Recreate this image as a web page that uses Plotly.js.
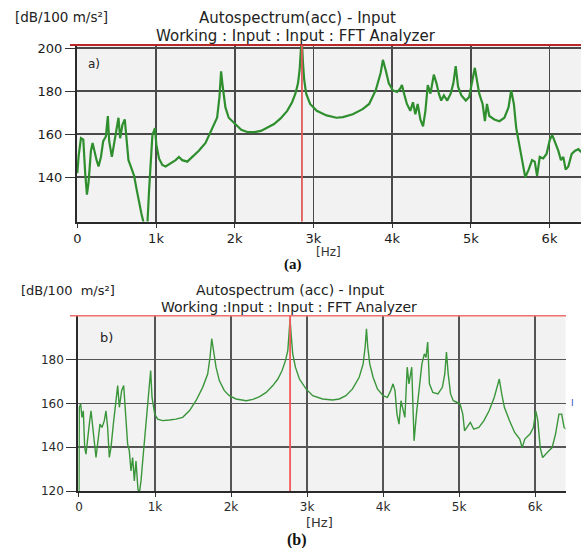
<!DOCTYPE html>
<html>
<head>
<meta charset="utf-8">
<script src="https://cdn.plot.ly/plotly-3.0.1.min.js"></script>
<style>html,body{margin:0;padding:0;background:#fff;}#chart{width:581px;height:548px;}</style>
</head>
<body>
<div id="chart"></div>
<script>
// ---- Data (a): Working, Input spectrum ----
const freqA = [0,17,46,76,101,122,143,173,194,215,245,270,300,329,363,388,405,439,468,498,523,544,574,603,624,650,679,722,751,785,814,848,890,911,932,954,987,1004,1038,1080,1122,1186,1249,1291,1333,1397,1460,1544,1629,1713,1776,1806,1827,1848,1882,1924,2008,2083,2167,2250,2333,2417,2500,2583,2667,2729,2771,2804,2825,2842,2854,2867,2883,2908,2958,3042,3167,3292,3375,3500,3625,3708,3792,3854,3883,3917,3958,4008,4063,4104,4125,4146,4188,4231,4265,4295,4325,4359,4393,4423,4453,4487,4530,4564,4594,4624,4658,4701,4744,4778,4808,4838,4880,4936,4979,5021,5051,5077,5107,5150,5179,5205,5235,5299,5363,5427,5479,5513,5547,5577,5620,5662,5692,5735,5778,5812,5842,5876,5919,5962,6004,6034,6068,6111,6145,6175,6205,6239,6282,6325,6368,6402];
const dbA = [142,150,158.2,157.5,141.5,132,137.8,152.4,156,152.4,148,145.1,149.5,156.8,159,168.5,156.8,149.5,155.3,162.9,167.7,158.2,164.5,166.9,159.7,148,145.1,140.7,134.9,127.6,123.2,118,118,133.4,149.5,159.7,162.9,155.3,148.8,145.8,145.1,146.6,148,149.5,148,147.3,149.5,152.4,156,162.9,167.7,177.3,189.3,182.1,172.5,167.7,164.5,162.1,161,161,161.6,163.2,164.8,167.4,170.9,174.9,178.9,183.7,190,200,203,193.3,185.3,178.9,174.1,170.9,168.8,167.7,168,169.3,171.7,174.1,180.5,188.5,194.6,190,183.7,180.5,179.7,181.3,182.9,179.7,174.1,170.9,174.9,169.3,174.1,166.9,163.7,170.9,182.9,178.9,187.7,183.7,178.9,175.7,178.1,175.7,178.9,183.7,191.7,182.1,178.1,175.7,177.3,185.3,190.9,185.3,178.9,174.1,166.1,174.1,168.5,166.9,166.1,167.7,172.5,180.5,174.1,162.9,153.9,145.1,140,143.6,148,147.3,140.7,149.5,148.8,150.9,157.5,159.7,156.8,152.4,148,149.5,143.6,145.1,150.9,152.4,153.1,151.7];

// ---- Data (b) ----
const freqB = [0,4,22,39,57,75,92,110,136,158,180,202,224,250,276,303,333,355,377,399,421,452,487,509,531,561,588,610,640,662,684,706,728,750,776,794,816,838,873,904,925,943,961,978,996,1035,1101,1189,1276,1364,1452,1539,1627,1693,1724,1746,1768,1803,1846,1912,1978,2066,2201,2288,2376,2463,2550,2616,2672,2716,2747,2769,2777,2790,2812,2847,2900,2987,3074,3205,3336,3424,3511,3598,3686,3738,3764,3782,3799,3825,3869,3926,4000,4057,4100,4131,4157,4183,4210,4236,4262,4287,4318,4341,4377,4408,4439,4475,4511,4543,4565,4587,4610,4655,4722,4780,4812,4834,4857,4888,4924,4969,5013,5049,5072,5103,5148,5193,5260,5327,5395,5462,5507,5529,5561,5596,5664,5731,5798,5830,5865,5933,5978,6009,6036,6067,6099,6135,6179,6224,6269,6314,6350,6381,6413];
const dbB = [118,158.2,159.7,153.6,156.6,139.8,136.8,141.4,150.5,156.6,149,139.8,135.3,142.9,150.5,149,152.1,156.6,149,135.3,139.8,150.5,162.7,168.1,158.2,165.8,168.1,155.1,141.4,138.3,129.2,135.3,124.6,133.7,120.8,119,124.6,133.7,147.5,158.2,170.4,175,162.7,158.2,155.1,152.8,152.1,152.4,152.8,153.6,156.6,161.2,167.3,173.4,181.1,189.5,184.1,176.5,170.4,165.8,163.5,162,161.2,161.8,163.1,165,168.1,171.1,175,179.5,184.1,194.8,198.6,191.8,182.6,176.5,171.1,166.6,163.5,162,161.5,162,163.5,166.6,171.9,178,185.6,194,185.6,178,171.9,166.6,163.5,162.7,165.8,168.9,165.8,155.1,150.5,161.2,156.6,153.6,176.5,168.9,176.5,142.9,155.1,167.3,178,182.6,181,188,168.9,165,164.3,167.3,173.4,183.4,173.4,164.3,161.2,160.5,159.7,155.1,147.5,149,151.3,148.2,149,152.1,156.6,162.7,168.9,171.1,164.3,158.2,152.1,146.7,143.7,139.8,143.7,146,149,156.6,152.1,139.8,135.3,136.8,138.3,139.8,146,155.1,155.1,149,148.2];

// cursor positions (Hz)
const cursorA = 2854;
const cursorB = 2777;

// tick labels
const xTickVals = [0,1000,2000,3000,4000,5000,6000];
const xTickText = ['0','1k','2k','3k','4k','5k','6k'];
const yTickA = [140,160,180,200];
const yTickB = [120,140,160,180];

const W = 581, H = 548;
const px = v => v / W;
const py = v => 1 - v / H;

const tickFontA = {family:'DejaVu Sans', size:13, color:'#1a1a1a'};
const tickFontB = {family:'DejaVu Sans', size:12, color:'#2a2a2a'};

const traces = [
  {x:freqA, y:dbA, xaxis:'x', yaxis:'y', mode:'lines', line:{color:'#2f8f2f', width:2.2}, hoverinfo:'skip'},
  {x:freqB, y:dbB, xaxis:'x2', yaxis:'y2', mode:'lines', line:{color:'#3a963a', width:1.4}, hoverinfo:'skip'}
];

const axX = {showgrid:true, gridcolor:'#4a4a4a', gridwidth:1.8, showline:true, linecolor:'#2a2a2a', linewidth:2,
  ticks:'outside', ticklen:4, tickcolor:'#333', tickvals:xTickVals, ticktext:xTickText, zeroline:false, fixedrange:true};
const axY = {showgrid:true, gridcolor:'#4a4a4a', gridwidth:1.8, showline:true, linecolor:'#2a2a2a', linewidth:2,
  ticks:'outside', ticklen:10, tickcolor:'#333', zeroline:false, fixedrange:true};

const layout = {
  width:W, height:H,
  margin:{l:0, r:0, t:0, b:0},
  paper_bgcolor:'#ffffff', plot_bgcolor:'#f2f2f2',
  showlegend:false,
  xaxis:Object.assign({}, axX, {domain:[px(77),1], range:[-4,6400], anchor:'y', tickfont:tickFontA}),
  yaxis:Object.assign({}, axY, {domain:[py(221.5), py(45)], range:[119.5,201.5], anchor:'x', tickvals:yTickA, tickfont:tickFontA}),
  xaxis2:Object.assign({}, axX, {domain:[px(78.3), px(565.5)], range:[-9,6400], anchor:'y2', tickfont:tickFontB, gridwidth:1.4, gridcolor:'#555'}),
  yaxis2:Object.assign({}, axY, {domain:[py(491), py(315.7)], range:[120,200], anchor:'x2', tickvals:yTickB, tickfont:tickFontB, gridwidth:1.4, gridcolor:'#555'}),
  shapes:[
    {type:'line', xref:'paper', yref:'y domain', x0:px(70), x1:1, y0:1, y1:1, line:{color:'#b82828', width:2}},
    {type:'line', xref:'x', yref:'y domain', x0:cursorA, x1:cursorA, y0:0, y1:1, line:{color:'#e05a5a', width:1.8}},
    {type:'line', xref:'paper', yref:'y2 domain', x0:px(70), x1:px(566), y0:1, y1:1, line:{color:'#f07070', width:1.6}},
    {type:'line', xref:'x2', yref:'y2 domain', x0:cursorB, x1:cursorB, y0:0, y1:1, line:{color:'#f05a5a', width:1.8}}
  ],
  annotations:[
    {text:'[dB/100 m/s²]', xref:'paper', yref:'paper', x:px(13), y:py(17), xanchor:'left', yanchor:'middle', showarrow:false, font:{family:'DejaVu Sans', size:13.5, color:'#222'}},
    {text:'Autospectrum(acc) - Input', xref:'paper', yref:'paper', x:px(297), y:py(18), xanchor:'center', yanchor:'middle', showarrow:false, font:{family:'DejaVu Sans', size:15, color:'#222'}},
    {text:'Working : Input : Input : FFT Analyzer', xref:'paper', yref:'paper', x:px(296), y:py(36), xanchor:'center', yanchor:'middle', showarrow:false, font:{family:'DejaVu Sans', size:15, color:'#222'}},
    {text:'a)', xref:'paper', yref:'paper', x:px(94), y:py(64), xanchor:'center', yanchor:'middle', showarrow:false, font:{family:'DejaVu Sans', size:12, color:'#222'}},
    {text:'[Hz]', xref:'paper', yref:'paper', x:px(328), y:py(252), xanchor:'center', yanchor:'middle', showarrow:false, font:{family:'DejaVu Sans', size:12, color:'#333'}},
    {text:'<b>(a)</b>', xref:'paper', yref:'paper', x:px(293), y:py(265), xanchor:'center', yanchor:'middle', showarrow:false, font:{family:'Liberation Serif', size:15, color:'#111'}},
    {text:'[dB/100  m/s²]', xref:'paper', yref:'paper', x:px(19), y:py(290), xanchor:'left', yanchor:'middle', showarrow:false, font:{family:'DejaVu Sans', size:13, color:'#222'}},
    {text:'Autospectrum (acc) - Input', xref:'paper', yref:'paper', x:px(290), y:py(290), xanchor:'center', yanchor:'middle', showarrow:false, font:{family:'DejaVu Sans', size:14, color:'#222'}},
    {text:'Working :Input : Input : FFT Analyzer', xref:'paper', yref:'paper', x:px(289), y:py(307), xanchor:'center', yanchor:'middle', showarrow:false, font:{family:'DejaVu Sans', size:14, color:'#222'}},
    {text:'b)', xref:'paper', yref:'paper', x:px(106), y:py(337), xanchor:'center', yanchor:'middle', showarrow:false, font:{family:'DejaVu Sans', size:13, color:'#222'}},
    {text:'I', xref:'paper', yref:'paper', x:px(572), y:py(403), xanchor:'center', yanchor:'middle', showarrow:false, font:{family:'DejaVu Sans', size:9, color:'#3050c0'}},
    {text:'[Hz]', xref:'paper', yref:'paper', x:px(320), y:py(522), xanchor:'center', yanchor:'middle', showarrow:false, font:{family:'DejaVu Sans', size:13, color:'#333'}},
    {text:'<b>(b)</b>', xref:'paper', yref:'paper', x:px(297), y:py(540), xanchor:'center', yanchor:'middle', showarrow:false, font:{family:'Liberation Serif', size:16, color:'#111'}}
  ]
};

Plotly.newPlot('chart', traces, layout, {staticPlot:true, displayModeBar:false});
</script>
</body>
</html>
